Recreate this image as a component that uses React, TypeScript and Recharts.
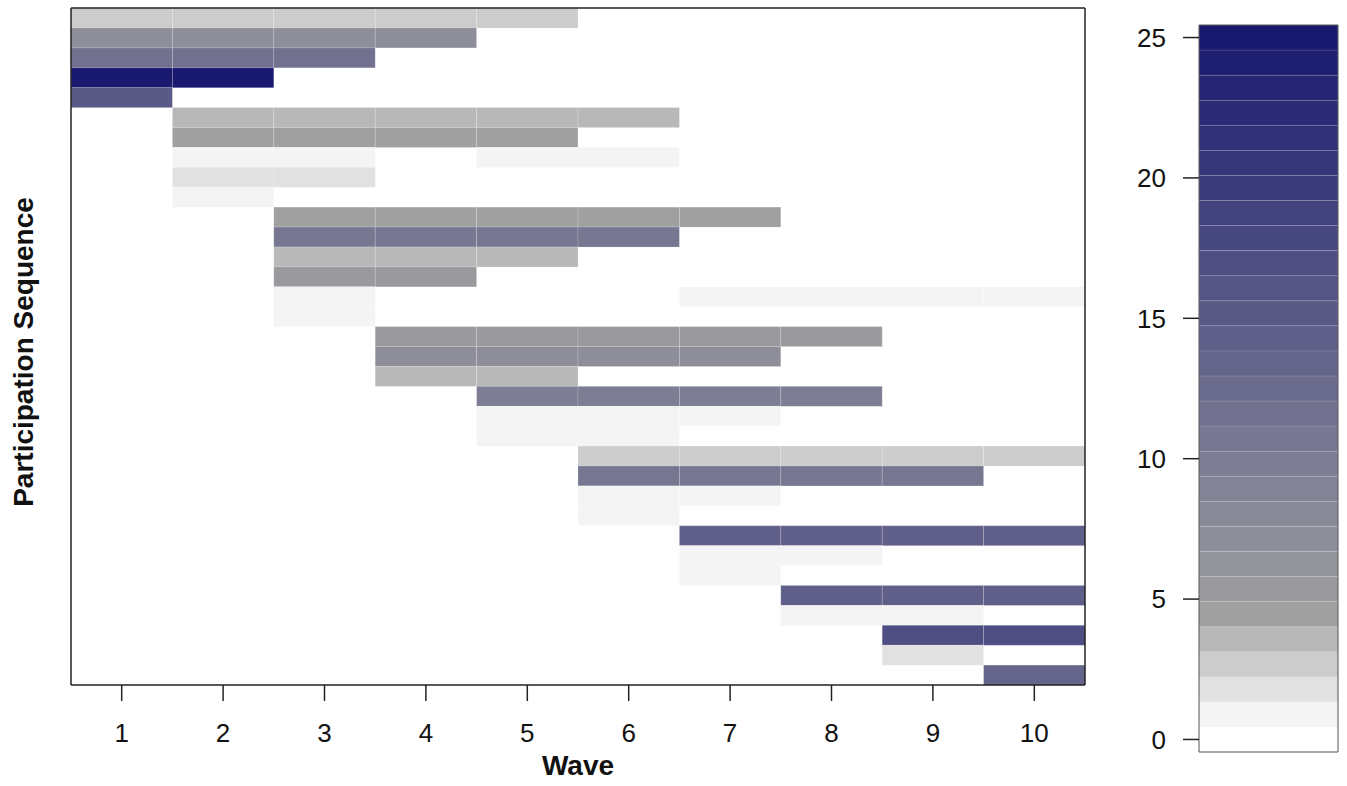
import React from 'react';
import { BarChart, Bar, XAxis, YAxis, Cell } from 'recharts';

// ---- data ----
const waves = [1, 2, 3, 4, 5, 6, 7, 8, 9, 10];

// first run of waves in each participation sequence (top row first)
const seqStart = [1, 1, 1, 1, 1, 2, 2, 2, 2, 2, 3, 3, 3, 3, 3, 3, 4, 4, 4, 5, 5, 5, 6, 6, 6, 6, 7, 7, 7, 8, 8, 9, 9, 10];
const seqEnd = [5, 4, 3, 2, 1, 6, 5, 3, 3, 2, 7, 6, 5, 4, 3, 3, 8, 7, 5, 8, 7, 6, 10, 9, 7, 6, 10, 8, 7, 10, 9, 10, 9, 10];
// second run of waves (after a missed wave), null when none
const reStart: (number | null)[] = [null, null, null, null, null, null, null, 5, null, null, null, null, null, null, 7, null, null, null, null, null, null, null, null, null, null, null, null, null, null, null, null, null, null, null];
const reEnd: (number | null)[] = [null, null, null, null, null, null, null, 6, null, null, null, null, null, null, 10, null, null, null, null, null, null, null, null, null, null, null, null, null, null, null, null, null, null, null];
// value shown by the colour of each sequence (0-25)
const seqValue = [2.7, 7.1, 11.6, 25, 15.2, 3.6, 4.5, 0.9, 1.8, 0.9, 4.5, 10.7, 3.6, 5.4, 0.9, 0.9, 5.4, 7.1, 3.6, 9.8, 0.9, 0.9, 2.7, 10.7, 0.9, 0.9, 14.3, 0.9, 0.9, 14.3, 0.9, 17.0, 1.8, 13.4];

// colour legend
const legendTicks = [0, 5, 10, 15, 20, 25];
const legendMax = 25;
const legendBands = 29;
const greyLevels = ['#ffffff', '#f4f4f4', '#e1e1e1', '#cccccc', '#b8b8b8', '#a0a0a0'];
const rampFrom = [160, 160, 160];
const rampTo = [25, 25, 112];

// ---- palette ----
const hex = (n: number) => Math.round(n).toString(16).padStart(2, '0');
const palette: string[] = [];
for (let k = 0; k < legendBands; k++) {
  if (k < greyLevels.length) palette.push(greyLevels[k]);
  else {
    const t = (k - (greyLevels.length - 1)) / (legendBands - greyLevels.length);
    palette.push('#' + rampFrom.map((c, i) => hex(c + (rampTo[i] - c) * t)).join(''));
  }
}
const bandWidth = legendMax / (legendBands - 1);
const colorOf = (v: number) => palette[Math.max(0, Math.min(legendBands - 1, Math.round(v / bandWidth)))];

const rows = seqStart.map((s, i) => ({
  seq: 'S' + (i + 1),
  span: [s - 0.5, seqEnd[i] + 0.5],
  span2: reStart[i] == null ? null : [(reStart[i] as number) - 0.5, (reEnd[i] as number) + 0.5],
  value: seqValue[i],
}));

// legend data: one stacked column of bands
const legendRow: Record<string, number | string> = { k: 'legend', neg: -bandWidth / 2, b0: bandWidth / 2 };
for (let k = 1; k < legendBands; k++) legendRow['b' + k] = bandWidth;
const legendData = [legendRow];
const legendKeys = ['neg', ...palette.map((_, k) => 'b' + k)];

const FONT = '"Liberation Sans", Arial, Helvetica, sans-serif';
const FRAME = '#222';

const WaveCells = (props: any) => {
  const { x, y, width, height, fill, payload, dataKey } = props;
  const seg = payload && payload[dataKey];
  if (!seg || !(width > 0)) return null;
  const n = Math.max(1, Math.round(seg[1] - seg[0]));
  const w = width / n;
  const out = [];
  for (let i = 0; i < n; i++) {
    out.push(
      <rect key={i} x={x + i * w} y={y} width={w} height={height} fill={fill}
        stroke="rgba(255,255,255,0.22)" strokeWidth={0.8} />
    );
  }
  return <g>{out}</g>;
};

export default function App() {
  return (
    <div style={{ position: 'absolute', left: 0, top: 0, width: 1347, height: 786, background: '#fff', fontFamily: FONT }}>
      <div style={{ position: 'absolute', left: 0, top: 0 }}>
        <BarChart width={1347} height={786} data={rows} layout="vertical"
          margin={{ top: 7, right: 261, bottom: 11, left: 70 }} barCategoryGap={0} barGap={0}>
          <XAxis xAxisId="b" type="number" domain={[0.5, 10.5]} ticks={waves} allowDataOverflow
            height={90} tickSize={16} tickMargin={23}
            axisLine={{ stroke: FRAME, strokeWidth: 1.5 }} tickLine={{ stroke: FRAME, strokeWidth: 1.5 }}
            tick={{ fontSize: 26, fill: '#111', fontFamily: FONT }} />
          <XAxis xAxisId="t" orientation="top" type="number" domain={[0.5, 10.5]} allowDataOverflow
            height={1} tick={false} tickLine={false} axisLine={{ stroke: FRAME, strokeWidth: 1.5 }} />
          <YAxis yAxisId="l" type="category" dataKey="seq" width={1} tick={false} tickLine={false}
            axisLine={{ stroke: FRAME, strokeWidth: 1.5 }} />
          <YAxis yAxisId="r" orientation="right" type="category" dataKey="seq" width={1} tick={false} tickLine={false}
            axisLine={{ stroke: FRAME, strokeWidth: 1.5 }} />
          <Bar dataKey="span" xAxisId="b" yAxisId="l" isAnimationActive={false} shape={<WaveCells />}>
            {rows.map((r, i) => <Cell key={i} fill={colorOf(r.value)} />)}
          </Bar>
          <Bar dataKey="span2" xAxisId="b" yAxisId="r" isAnimationActive={false} shape={<WaveCells />}>
            {rows.map((r, i) => <Cell key={i} fill={colorOf(r.value)} />)}
          </Bar>
        </BarChart>
      </div>

      <div style={{ position: 'absolute', left: 1100, top: 0 }}>
        <BarChart width={247} height={786} data={legendData} stackOffset="sign"
          margin={{ top: 24, right: 8, bottom: 33, left: 0 }} barCategoryGap={0} barGap={0}>
          <XAxis dataKey="k" height={1} tick={false} tickLine={false} axisLine={{ stroke: '#555', strokeWidth: 1 }} />
          <XAxis xAxisId="t" dataKey="k" orientation="top" height={1} tick={false} tickLine={false}
            axisLine={{ stroke: '#555', strokeWidth: 1 }} />
          <YAxis type="number" domain={[-bandWidth / 2, legendMax + bandWidth / 2]} ticks={legendTicks}
            allowDataOverflow width={99} tickSize={16} tickMargin={17}
            axisLine={{ stroke: '#555', strokeWidth: 1 }} tickLine={{ stroke: FRAME, strokeWidth: 1.5 }}
            tick={{ fontSize: 26, fill: '#111', fontFamily: FONT }} />
          <YAxis yAxisId="r" orientation="right" type="number" domain={[-bandWidth / 2, legendMax + bandWidth / 2]}
            allowDataOverflow width={1} tick={false} tickLine={false} axisLine={{ stroke: '#555', strokeWidth: 1 }} />
          {legendKeys.map((key, i) => (
            <Bar key={key} dataKey={key} stackId="legend" isAnimationActive={false}
              fill={palette[Math.max(0, i - 1)]}
              stroke={i > 5 ? 'rgba(255,255,255,0.12)' : 'none'} strokeWidth={1} />
          ))}
        </BarChart>
      </div>

      <div style={{ position: 'absolute', left: 0, width: 1156, top: 750, textAlign: 'center', fontSize: 28, fontWeight: 'bold', lineHeight: '32px', color: '#111' }}>
        Wave
      </div>
      <div style={{ position: 'absolute', left: 24 - 250, top: 352 - 16, width: 500, textAlign: 'center', fontSize: 28, fontWeight: 'bold', lineHeight: '32px', color: '#111', transform: 'rotate(-90deg)' }}>
        Participation Sequence
      </div>
    </div>
  );
}
